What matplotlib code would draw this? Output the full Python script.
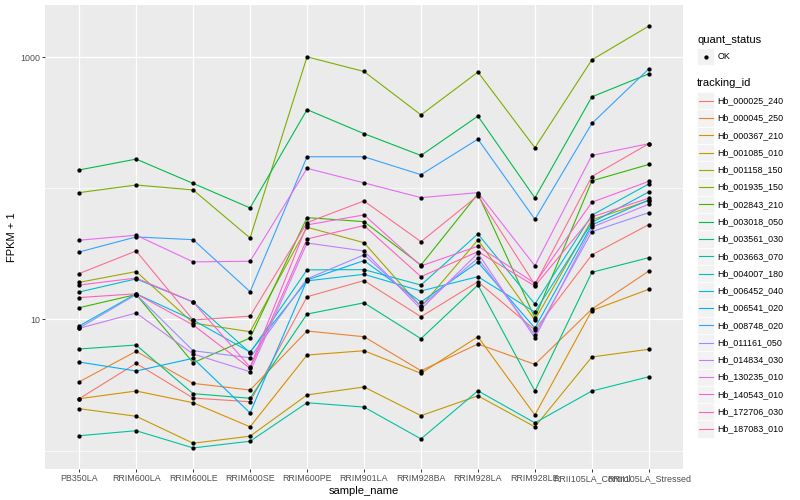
import numpy as np
import matplotlib.pyplot as plt
from matplotlib.patches import Rectangle
from matplotlib.lines import Line2D
from matplotlib.ticker import FixedLocator, NullFormatter

plt.rcParams['font.family'] = ['Liberation Sans', 'DejaVu Sans']

samples = ['PB350LA', 'RRIM600LA', 'RRIM600LE', 'RRIM600SE', 'RRIM600PE', 'RRIM901LA',
           'RRIM928BA', 'RRIM928LA', 'RRIM928LE', 'RRII105LA_Control', 'RRII105LA_Stressed']

tracking_ids = ['Hb_000025_240', 'Hb_000045_250', 'Hb_000367_210', 'Hb_001085_010',
                'Hb_001158_150', 'Hb_001935_150', 'Hb_002843_210', 'Hb_003018_050',
                'Hb_003561_030', 'Hb_003663_070', 'Hb_004007_180', 'Hb_006452_040',
                'Hb_006541_020', 'Hb_008748_020', 'Hb_011161_050', 'Hb_014834_030',
                'Hb_130235_010', 'Hb_140543_010', 'Hb_172706_030', 'Hb_187083_010']

# ggplot hue palette, 20 levels
colors = ['#F8766D', '#EA8331', '#D89000', '#C09B00', '#A3A500', '#7CAE00', '#39B600',
          '#00BB4E', '#00BF7D', '#00C1A3', '#00BFC4', '#00BAE0', '#00B0F6', '#35A2FF',
          '#9590FF', '#C77CFF', '#E76BF3', '#FA62DB', '#FF62BC', '#FF6C91']

# FPKM + 1 per sample
hb_000025_240 = [2.49, 4.63, 2.52, 2.36, 14.9, 19.8, 10.5, 19.4, 8.32, 31.1, 52.9]
hb_000045_250 = [3.35, 5.72, 3.26, 2.90, 8.17, 7.39, 4.07, 6.50, 4.55, 12.0, 23.4]
hb_000367_210 = [2.49, 2.85, 2.32, 1.52, 5.36, 5.78, 3.89, 7.39, 1.87, 11.7, 17.0]
hb_001085_010 = [2.09, 1.83, 1.14, 1.29, 2.66, 3.06, 1.85, 2.62, 1.52, 5.18, 5.93]
hb_001158_150 = [19.2, 23.2, 9.40, 8.07, 50.5, 38.5, 12.5, 40.4, 9.91, 57.4, 80.6]
hb_001935_150 = [92.7, 106, 97.2, 41.8, 1005, 777, 363, 769, 204, 954, 1724]
hb_002843_210 = [12.3, 15.5, 4.68, 7.23, 59.8, 55.7, 26.0, 90.7, 10.3, 114, 152]
hb_003018_050 = [138, 167, 109, 70.9, 398, 261, 178, 355, 84.5, 498, 746]
hb_003561_030 = [5.96, 6.39, 2.72, 2.51, 11.0, 13.4, 7.14, 18.3, 2.85, 22.9, 29.6]
hb_003663_070 = [1.30, 1.42, 1.05, 1.18, 2.32, 2.15, 1.23, 2.86, 1.63, 2.85, 3.66]
hb_004007_180 = [16.2, 20.4, 13.6, 5.58, 23.9, 24.0, 18.3, 44.9, 13.1, 62.4, 108]
hb_006452_040 = [8.92, 15.7, 9.91, 5.65, 19.7, 22.1, 16.5, 21.2, 11.4, 54.8, 93.9]
hb_006541_020 = [4.74, 4.05, 5.06, 1.94, 20.0, 28.1, 13.6, 27.3, 8.61, 52.6, 81.6]
hb_008748_020 = [32.7, 42.6, 40.6, 16.3, 174, 174, 127, 237, 58.1, 312, 814]
hb_011161_050 = [8.61, 15.5, 5.78, 5.11, 20.4, 31.1, 12.7, 29.3, 7.62, 46.7, 65.3]
hb_014834_030 = [8.57, 11.2, 5.46, 4.00, 38.3, 33.3, 12.0, 32.0, 7.23, 50.5, 75.6]
hb_130235_010 = [40.2, 43.9, 27.5, 27.8, 142, 110, 84.9, 92.7, 25.7, 178, 219]
hb_140543_010 = [18.3, 20.7, 13.6, 4.34, 52.6, 62.7, 25.6, 36.2, 18.9, 78.3, 113]
hb_172706_030 = [14.7, 15.7, 9.08, 4.24, 41.1, 52.0, 21.2, 32.9, 18.0, 60.5, 84.1]
hb_187083_010 = [22.4, 33.3, 9.91, 10.6, 54.8, 80.1, 39.2, 88.0, 18.4, 123, 219]

series = [hb_000025_240, hb_000045_250, hb_000367_210, hb_001085_010, hb_001158_150,
          hb_001935_150, hb_002843_210, hb_003018_050, hb_003561_030, hb_003663_070,
          hb_004007_180, hb_006452_040, hb_006541_020, hb_008748_020, hb_011161_050,
          hb_014834_030, hb_130235_010, hb_140543_010, hb_172706_030, hb_187083_010]

W, H = 800, 500
def fx(px):
    return px / W
def fy(py):
    return 1 - py / H

fig = plt.figure(figsize=(8, 5), dpi=100)
left, right, top, bottom = 45, 683, 5, 469
ax = fig.add_axes([fx(left), fy(bottom), (right - left) / W, (bottom - top) / H])
ax.set_facecolor('#EBEBEB')
for s in ax.spines.values():
    s.set_visible(False)

x = np.arange(len(samples))
for vals, col in zip(series, colors):
    ax.plot(x, vals, color=col, lw=0.8, zorder=2)
for vals in series:
    ax.plot(x, vals, 'o', color='black', ms=3.1, mew=0, zorder=3)

ax.set_yscale('log')
logs = np.log10(np.concatenate([np.array(v) for v in series]))
lo, hi = logs.min(), logs.max()
pad = 0.05 * (hi - lo)
ax.set_ylim(10 ** (lo - pad), 10 ** (hi + pad))
ax.set_xlim(-0.6, len(samples) - 0.4)

ax.yaxis.set_major_locator(FixedLocator([10, 1000]))
ax.set_yticklabels(['10', '1000'])
ax.yaxis.set_minor_locator(FixedLocator([1, 100]))
ax.yaxis.set_minor_formatter(NullFormatter())
ax.set_xticks(x)
ax.set_xticklabels(samples)

ax.grid(which='major', color='white', lw=0.9, zorder=1)
ax.yaxis.grid(which='minor', color='white', lw=0.45, zorder=1)
ax.set_axisbelow(True)
ax.tick_params(which='major', length=2, width=0.7, color='#333333',
               labelsize=6.4, labelcolor='#4D4D4D', pad=1.6)
ax.tick_params(which='minor', length=0)

ax.set_xlabel('sample_name', fontsize=8, labelpad=2)
ax.set_ylabel('FPKM + 1', fontsize=8, labelpad=2)

# legends drawn as in ggplot
key = 17.28
kx = 697
fig.text(fx(kx), fy(40), 'quant_status', fontsize=8, va='center', ha='left')
fig.patches.append(Rectangle((fx(kx), fy(56.7 + key / 2)), key / W, key / H,
                             transform=fig.transFigure, facecolor='#F2F2F2',
                             edgecolor='white', lw=0.5))
fig.lines.append(Line2D([fx(kx + key / 2)], [fy(56.7)], transform=fig.transFigure,
                        marker='o', color='black', ms=3.1, mew=0))
fig.text(fx(kx + key + 3), fy(56.7), 'OK', fontsize=6.4, va='center', ha='left')

fig.text(fx(kx), fy(83.3), 'tracking_id', fontsize=8, va='center', ha='left')
for i, (name, col) in enumerate(zip(tracking_ids, colors)):
    cy = 100.7 + i * key
    fig.patches.append(Rectangle((fx(kx), fy(cy + key / 2)), key / W, key / H,
                                 transform=fig.transFigure, facecolor='#F2F2F2',
                                 edgecolor='white', lw=0.5))
    fig.lines.append(Line2D([fx(kx + 1.7), fx(kx + key - 1.7)], [fy(cy), fy(cy)],
                            transform=fig.transFigure, color=col, lw=0.8))
    fig.text(fx(kx + key + 3), fy(cy), name, fontsize=6.4, va='center', ha='left')

fig.savefig('out.png', dpi=100)
